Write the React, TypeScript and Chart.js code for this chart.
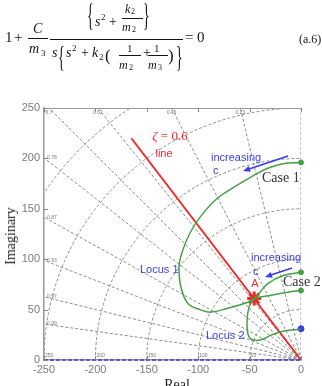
import React, { useEffect, useRef } from 'react';
import { Chart, registerables } from 'chart.js';
Chart.register(...registerables);

// ---- data ----
const xTicks = [-250, -200, -150, -100, -50, 0];
const yTicks = [0, 50, 100, 150, 200, 250];

const case1X = [0, -17.5, -33, -49.6, -66, -82, -98, -108, -115, -118.5, -118.5, -116.7, -110, -97, -87.5, -71, -51.6, -45.5, -29.2, -12.6, 0];
const case1Y = [196, 194.7, 190, 181, 171, 160, 142, 126, 109, 95, 85, 72, 56, 49.5, 47.5, 51.4, 57.3, 61, 64.2, 67.2, 69];

const case2X = [0, -16.5, -32, -41.8, -45.5, -50.6, -52.5, -50.6, -44, -35, -29.2, -16.5, 0];
const case2Y = [87, 84, 76, 65, 61, 52.4, 37, 23, 19.5, 21.5, 24.7, 28.7, 30.6];

const poleX = [0, 0, 0];
const poleY = [196, 87, 69];
const zeroX = [0];
const zeroY = [31];
const pointAX = [-45.5];
const pointAY = [61];
const zetaLineX = [0, -165];
const zetaLineY = [0, 220];
const realAxisX = [-250, 0];
const realAxisY = [0, 0];
const arrow1X = [-12.6, -56.4];
const arrow1Y = [202.4, 187.5];
const arrow2X = [-8.8, -35];
const arrow2Y = [91.3, 82.3];

const gridZeta = [0, 0.23, 0.45, 0.62, 0.7, 0.78, 0.87, 0.93, 0.97, 0.99];
const gridZetaLabels = ['', '0.23', '0.45', '0.62', '0.7', '0.78', '0.87', '0.93', '0.97', '0.99'];
const gridWn = [50, 100, 150, 200, 250, 300, 350];
const gridWnLabels = ['50', '100', '150', '200', '250', '', ''];

const RED = '#f02a2a';
const BLUE = '#3a3aee';
const GREEN = '#44a044';
const TICKFONT = "'Liberation Sans', Arial, sans-serif";
const SERIF = "'Liberation Serif', 'DejaVu Serif', serif";
const SANS = "'Liberation Sans', Arial, sans-serif";

const pts = (xs: number[], ys: number[]) => xs.map((x, i) => ({ x, y: ys[i] }));

const sgridPlugin = {
  id: 'sgrid',
  beforeDatasetsDraw(chart: any) {
    const { ctx, chartArea: ca, scales } = chart;
    const sx = scales.x, sy = scales.y;
    const ox = sx.getPixelForValue(0), oy = sy.getPixelForValue(0);
    ctx.save();
    ctx.beginPath();
    ctx.rect(ca.left, ca.top, ca.right - ca.left, ca.bottom - ca.top);
    ctx.clip();
    ctx.strokeStyle = '#8c8c8c';
    ctx.lineWidth = 1;
    ctx.setLineDash([3, 2]);
    gridZeta.forEach((z) => {
      const a = Math.acos(z);
      ctx.beginPath();
      ctx.moveTo(ox, oy);
      ctx.lineTo(sx.getPixelForValue(-600 * Math.cos(a)), sy.getPixelForValue(600 * Math.sin(a)));
      ctx.stroke();
    });
    gridWn.forEach((w) => {
      const rx = ox - sx.getPixelForValue(-w);
      const ry = oy - sy.getPixelForValue(w);
      ctx.beginPath();
      ctx.ellipse(ox, oy, rx, ry, 0, Math.PI, 1.5 * Math.PI);
      ctx.stroke();
    });
    ctx.restore();
    // tiny labels
    ctx.save();
    ctx.fillStyle = '#777';
    ctx.font = `5px ${SANS}`;
    gridZeta.forEach((z, i) => {
      if (!gridZetaLabels[i]) return;
      const a = Math.acos(z);
      const c = Math.cos(a), s = Math.sin(a);
      const yAtLeft = (250 * s) / c;
      if (yAtLeft <= 250) {
        ctx.textAlign = 'left';
        ctx.textBaseline = 'middle';
        ctx.fillText(gridZetaLabels[i], ca.left + 3, sy.getPixelForValue(yAtLeft));
      } else {
        const xAtTop = (-250 * c) / s;
        ctx.textAlign = 'center';
        ctx.textBaseline = 'top';
        ctx.fillText(gridZetaLabels[i], sx.getPixelForValue(xAtTop), ca.top + 2);
      }
    });
    ctx.textAlign = 'left';
    ctx.textBaseline = 'bottom';
    gridWn.forEach((w, i) => {
      if (!gridWnLabels[i]) return;
      ctx.fillText(gridWnLabels[i], sx.getPixelForValue(-w) + 1, ca.bottom - 2);
    });
    ctx.restore();
  },
  afterDatasetsDraw(chart: any) {
    const { ctx, chartArea: ca, scales } = chart;
    const sx = scales.x, sy = scales.y;
    ctx.save();
    ctx.strokeStyle = '#9a9a9a';
    ctx.lineWidth = 1;
    ctx.beginPath();
    ctx.moveTo(ca.left, ca.top + 0.5);
    ctx.lineTo(ca.right, ca.top + 0.5);
    ctx.stroke();
    ctx.strokeStyle = '#888';
    yTicks.forEach((v) => {
      const py = Math.round(sy.getPixelForValue(v)) + 0.5;
      ctx.beginPath();
      ctx.moveTo(ca.left, py);
      ctx.lineTo(ca.left + 4, py);
      ctx.stroke();
    });
    xTicks.forEach((v) => {
      const px = Math.round(sx.getPixelForValue(v)) + 0.5;
      ctx.beginPath();
      ctx.moveTo(px, ca.bottom);
      ctx.lineTo(px, ca.bottom - 4);
      ctx.moveTo(px, ca.top);
      ctx.lineTo(px, ca.top + 4);
      ctx.stroke();
    });
    const drawArrow = (xs: number[], ys: number[]) => {
      const x0 = sx.getPixelForValue(xs[0]), y0 = sy.getPixelForValue(ys[0]);
      const x1 = sx.getPixelForValue(xs[1]), y1 = sy.getPixelForValue(ys[1]);
      const ang = Math.atan2(y1 - y0, x1 - x0);
      ctx.strokeStyle = BLUE;
      ctx.fillStyle = BLUE;
      ctx.lineWidth = 1.5;
      ctx.beginPath();
      ctx.moveTo(x0, y0);
      ctx.lineTo(x1 - 4 * Math.cos(ang), y1 - 4 * Math.sin(ang));
      ctx.stroke();
      ctx.beginPath();
      ctx.moveTo(x1, y1);
      ctx.lineTo(x1 - 7 * Math.cos(ang) + 3 * Math.sin(ang), y1 - 7 * Math.sin(ang) - 3 * Math.cos(ang));
      ctx.lineTo(x1 - 7 * Math.cos(ang) - 3 * Math.sin(ang), y1 - 7 * Math.sin(ang) + 3 * Math.cos(ang));
      ctx.closePath();
      ctx.fill();
    };
    drawArrow(arrow1X, arrow1Y);
    drawArrow(arrow2X, arrow2Y);
    ctx.restore();
  },
};

type TProps = { x: number; b: number; s: number; i?: boolean; f?: string; c?: string; children: React.ReactNode };
const T = ({ x, b, s, i, f, c, children }: TProps) => (
  <span
    style={{
      position: 'absolute',
      left: x,
      top: b - 0.8375 * s,
      fontSize: s,
      lineHeight: `${s}px`,
      fontStyle: i ? 'italic' : 'normal',
      fontFamily: f || SERIF,
      color: c || '#151515',
      whiteSpace: 'nowrap',
    }}
  >
    {children}
  </span>
);
const Bar = ({ x1, x2, y }: { x1: number; x2: number; y: number }) => (
  <div style={{ position: 'absolute', left: x1, top: y, width: x2 - x1, height: 1, background: '#151515' }} />
);
const Brace = ({ x, top, h, ch }: { x: number; top: number; h: number; ch: string }) => (
  <span
    style={{
      position: 'absolute',
      left: x,
      top: top,
      fontSize: 14,
      lineHeight: '14px',
      fontFamily: SERIF,
      color: '#151515',
      transform: `scale(1, ${h / 14})`,
      transformOrigin: 'left top',
    }}
  >
    {ch}
  </span>
);

const Label = ({ cx, cy, s, f, c, children }: any) => (
  <span
    style={{
      position: 'absolute',
      left: cx,
      top: cy,
      transform: 'translate(-50%, -50%)',
      fontSize: s,
      lineHeight: `${s}px`,
      fontFamily: f,
      color: c,
      whiteSpace: 'nowrap',
    }}
  >
    {children}
  </span>
);
const LabelL = ({ x, cy, s, f, c, children }: any) => (
  <span
    style={{
      position: 'absolute',
      left: x,
      top: cy - s / 2,
      fontSize: s,
      lineHeight: `${s}px`,
      fontFamily: f,
      color: c,
      whiteSpace: 'nowrap',
    }}
  >
    {children}
  </span>
);

export default function App() {
  const ref = useRef<HTMLCanvasElement>(null);
  useEffect(() => {
    if (!ref.current) return;
    const chart = new Chart(ref.current, {
      type: 'scatter',
      data: {
        datasets: [
          { data: pts(realAxisX, realAxisY), showLine: true, borderColor: BLUE, borderWidth: 1.5, borderDash: [4, 2], pointRadius: 0, clip: false } as any,
          { data: pts(case1X, case1Y), showLine: true, borderColor: GREEN, borderWidth: 1.5, tension: 0.4, pointRadius: 0, clip: false } as any,
          { data: pts(case2X, case2Y), showLine: true, borderColor: GREEN, borderWidth: 1.5, tension: 0.4, pointRadius: 0, clip: false } as any,
          { data: pts(zetaLineX, zetaLineY), showLine: true, borderColor: RED, borderWidth: 2, pointRadius: 0, clip: false } as any,
          { data: pts(poleX, poleY), showLine: false, pointRadius: 2.5, backgroundColor: GREEN, borderColor: GREEN, clip: false } as any,
          { data: pts(zeroX, zeroY), showLine: false, pointRadius: 3, backgroundColor: BLUE, borderColor: BLUE, clip: false } as any,
          { data: pts(pointAX, pointAY), showLine: false, pointStyle: 'star', pointRadius: 7, borderWidth: 3, borderColor: RED, backgroundColor: RED, clip: false } as any,
        ],
      },
      options: {
        animation: false,
        responsive: false,
        maintainAspectRatio: false,
        layout: { padding: { top: 108, right: 21, left: 0, bottom: 0 } },
        plugins: { legend: { display: false }, tooltip: { enabled: false } },
        scales: {
          x: {
            type: 'linear',
            min: -250,
            max: 0,
            afterBuildTicks: (s: any) => {
              s.ticks = xTicks.map((v) => ({ value: v }));
            },
            afterFit: (s: any) => {
              s.height = 26;
            },
            grid: { display: false, drawTicks: false },
            border: { display: true, color: '#999', width: 1.5 },
            ticks: { color: '#7a7a7a', font: { family: TICKFONT, size: 11 }, padding: 3, maxRotation: 0, autoSkip: false },
          },
          y: {
            type: 'linear',
            min: 0,
            max: 250,
            afterBuildTicks: (s: any) => {
              s.ticks = yTicks.map((v) => ({ value: v }));
            },
            afterFit: (s: any) => {
              s.width = 44;
            },
            grid: { display: false, drawTicks: false },
            border: { display: true, color: '#999', width: 1.5 },
            ticks: { color: '#7a7a7a', font: { family: TICKFONT, size: 11 }, padding: 4, autoSkip: false },
          },
        },
      } as any,
      plugins: [sgridPlugin],
    });
    return () => chart.destroy();
  }, []);

  return (
    <div style={{ position: 'absolute', left: 0, top: 0, width: 322, height: 386, overflow: 'hidden', background: '#fff' }}>
      <canvas ref={ref} width={322} height={386} style={{ display: 'block', position: 'absolute', left: 0, top: 0 }} />
      {/* equation */}
      <T x={5} b={43} s={15}>1</T>
      <T x={14} b={43} s={15}>+</T>
      <T x={33} b={34} s={14} i>C</T>
      <Bar x1={28} x2={48} y={38} />
      <T x={29} b={54} s={14} i>m</T>
      <T x={41} b={57} s={9}>3</T>
      <Bar x1={50} x2={183} y={39} />
      <Brace x={87} top={2} h={31} ch="{" />
      <T x={95} b={27} s={14} i>s</T>
      <T x={101} b={21} s={9}>2</T>
      <T x={109} b={27} s={14}>+</T>
      <T x={125} b={13} s={12} i>k</T>
      <T x={131} b={15} s={8}>2</T>
      <Bar x1={122} x2={143} y={18} />
      <T x={122} b={31} s={12} i>m</T>
      <T x={132} b={33} s={8}>2</T>
      <Brace x={143} top={2} h={31} ch="}" />
      <T x={52} b={58} s={14} i>s</T>
      <Brace x={58} top={42} h={30} ch="{" />
      <T x={66} b={58} s={14} i>s</T>
      <T x={72} b={52} s={9}>2</T>
      <T x={81} b={58} s={14}>+</T>
      <T x={92} b={58} s={14} i>k</T>
      <T x={99} b={61} s={9}>2</T>
      <T x={105} b={61} s={17}>(</T>
      <T x={127} b={52} s={11}>1</T>
      <Bar x1={119} x2={141} y={55} />
      <T x={119} b={69} s={12} i>m</T>
      <T x={129} b={71} s={8}>2</T>
      <T x={143} b={58} s={14}>+</T>
      <T x={154} b={52} s={11}>1</T>
      <Bar x1={148} x2={168} y={55} />
      <T x={148} b={69} s={12} i>m</T>
      <T x={158} b={71} s={8}>3</T>
      <T x={168} b={61} s={17}>)</T>
      <Brace x={176} top={42} h={30} ch="}" />
      <T x={185} b={43} s={15}>=</T>
      <T x={197} b={43} s={15}>0</T>
      <T x={299} b={43} s={12}>(a.6)</T>

      {/* axis titles */}
      <Label cx={177} cy={385} s={14} f={SERIF} c="#222">Real</Label>
      <span
        style={{
          position: 'absolute',
          left: 11,
          top: 236,
          transform: 'translate(-50%, -50%) rotate(-90deg)',
          fontSize: 14,
          lineHeight: '14px',
          fontFamily: SERIF,
          color: '#222',
          whiteSpace: 'nowrap',
        }}
      >
        Imaginary
      </span>

      {/* annotations */}
      <Label cx={170} cy={135} s={13} f={SERIF} c={RED}>
        <i>ζ</i> = 0.6
      </Label>
      <Label cx={164} cy={153} s={11} f={SANS} c={RED}>line</Label>
      <LabelL x={211} cy={157} s={11} f={SANS} c={BLUE}>increasing</LabelL>
      <LabelL x={213} cy={170} s={11} f={SANS} c={BLUE}>c</LabelL>
      <LabelL x={251} cy={257} s={11} f={SANS} c={BLUE}>increasing</LabelL>
      <LabelL x={253} cy={271} s={11} f={SANS} c={BLUE}>c</LabelL>
      <LabelL x={262} cy={178} s={14} f={SERIF} c="#333">Case 1</LabelL>
      <LabelL x={283} cy={282} s={14} f={SERIF} c="#333">Case 2</LabelL>
      <Label cx={255} cy={283} s={11} f={SANS} c={RED}>A</Label>
      <LabelL x={140} cy={269} s={11} f={SANS} c={BLUE}>Locus 1</LabelL>
      <LabelL x={206} cy={335} s={11} f={SANS} c={BLUE}>Locus 2</LabelL>
    </div>
  );
}
